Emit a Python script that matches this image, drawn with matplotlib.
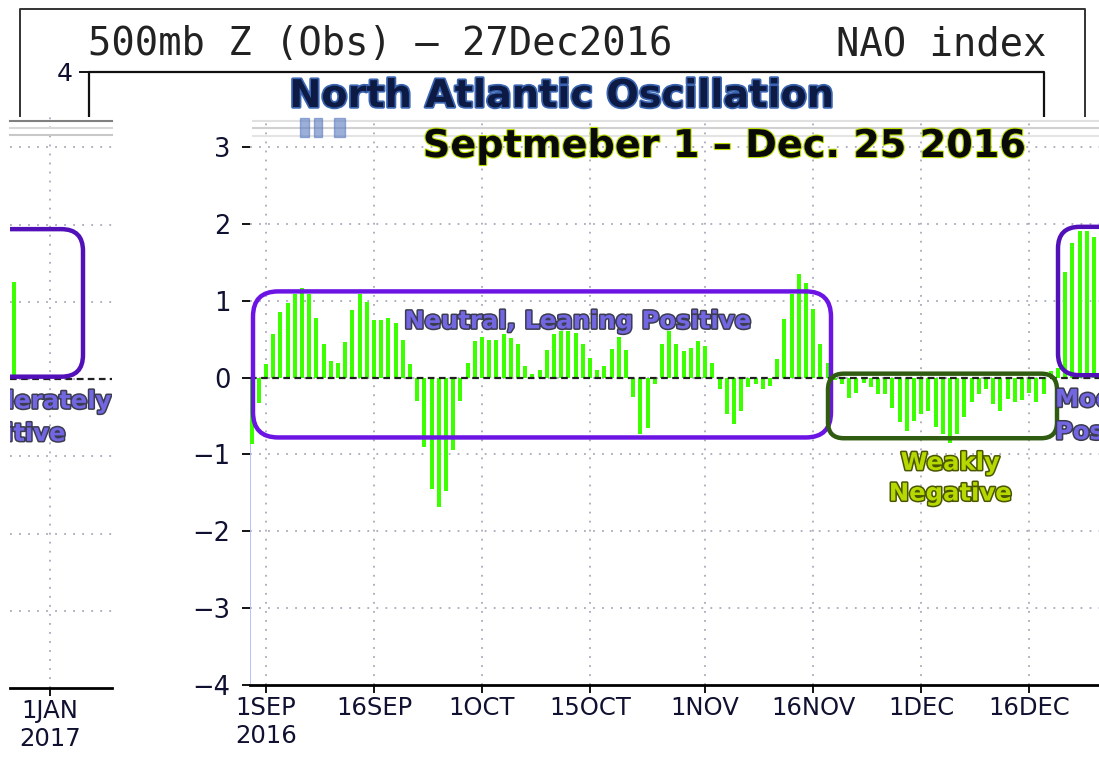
import numpy as np
import pandas as pd
import matplotlib
matplotlib.use("Agg")
import matplotlib.pyplot as plt
import matplotlib.patheffects as pe
from matplotlib.patches import FancyBboxPatch, Rectangle
from matplotlib.lines import Line2D

W, H = 1099, 779

# daily NAO index, 30 Aug .. 25 Dec 2016
nao_first_day = "2016-08-30"
nao_values = [-0.87, -0.33, 0.17, 0.57, 0.85, 0.97, 1.09, 1.17, 1.09, 0.78,
              0.43, 0.21, 0.19, 0.46, 0.88, 1.09, 0.98, 0.75, 0.75, 0.78,
              0.71, 0.49, 0.17, -0.30, -0.90, -1.45, -1.68, -1.47, -0.94, -0.31,
              0.19, 0.48, 0.53, 0.49, 0.49, 0.57, 0.51, 0.44, 0.15, 0.05,
              0.10, 0.36, 0.57, 0.60, 0.60, 0.58, 0.44, 0.25, 0.10, 0.15,
              0.37, 0.53, 0.36, -0.26, -0.74, -0.66, -0.09, 0.44, 0.61, 0.44,
              0.34, 0.39, 0.48, 0.41, 0.19, -0.15, -0.47, -0.60, -0.43, -0.12,
              -0.08, -0.15, -0.11, 0.24, 0.76, 1.08, 1.34, 1.23, 0.89, 0.43,
              0.19, -0.03, -0.08, -0.27, -0.20, -0.07, -0.13, -0.21, -0.22, -0.40,
              -0.58, -0.69, -0.56, -0.47, -0.44, -0.65, -0.74, -0.85, -0.74, -0.52,
              -0.32, -0.21, -0.15, -0.34, -0.43, -0.28, -0.32, -0.29, -0.20, -0.32,
              -0.21, 0.09, 0.13, 1.37, 1.75, 1.91, 1.91, 1.83]

tick_dates = ["2016-09-01", "2016-09-16", "2016-10-01", "2016-10-16",
              "2016-11-01", "2016-11-16", "2016-12-01", "2016-12-16"]
tick_labels = ["1SEP\n2016", "16SEP", "1OCT", "15OCT", "1NOV", "16NOV", "1DEC", "16DEC"]
y_ticks = [-4, -3, -2, -1, 0, 1, 2, 3]

# pasted fragment of the next chart (left side)
frag_dates = ["2016-12-26", "2016-12-27"]
frag_values = [1.42, 1.26]

start = pd.Timestamp("2016-09-01")
days = np.asarray((pd.date_range(nao_first_day, periods=len(nao_values)) - start).days)
tick_days = [(pd.Timestamp(d) - start).days for d in tick_dates]
jan1 = pd.Timestamp("2017-01-01")
frag_days = [(pd.Timestamp(d) - jan1).days for d in frag_dates]

PX_DAY, PX_UNIT = 7.2, 76.7
ASPECT = PX_DAY / PX_UNIT

BAR = "#3cff00"
GRID = dict(color="#a9a9bb", ls=(0, (1, 4)), lw=1.3)
PURPLE = "#6c14e4"
DPURPLE = "#5210b8"
DGREEN = "#2f5c10"
TXT = "#101030"


def rect(x0, y0, x1, y1):
    return [x0 / W, 1 - y1 / H, (x1 - x0) / W, (y1 - y0) / H]


def rbox(ax, x0, x1, y0, y1, color, r):
    ax.add_patch(FancyBboxPatch((x0, y0), x1 - x0, y1 - y0,
                                boxstyle=f"round,pad=0,rounding_size={r}",
                                mutation_aspect=ASPECT, fill=False, ec=color,
                                lw=3.2, zorder=6))


lab_purple = dict(color="#7366e2", fontweight="bold", fontsize=17.5, zorder=7,
                  path_effects=[pe.withStroke(linewidth=2.2, foreground="#3c3c50")])
lab_green = dict(color="#b6da00", fontweight="bold", fontsize=17.5, zorder=7,
                 path_effects=[pe.withStroke(linewidth=2.2, foreground="#4a5500")])

fig = plt.figure(figsize=(W / 100, H / 100), dpi=100)

# ---- main chart
ax = fig.add_axes(rect(250, 70, 1099, 685))
ax.set_xlim((250 - 266) / PX_DAY, (1099 - 266) / PX_DAY)
ax.set_ylim(-4, 4)
ax.bar(days, nao_values, width=0.55, color=BAR, zorder=3)
for d in tick_days:
    ax.axvline(d, **GRID, zorder=1)
for v in y_ticks[1:]:
    ax.axhline(v, **GRID, zorder=1)
ax.axhline(0, color="#202020", ls=(0, (3, 2)), lw=1.6, zorder=4)
ax.axvline(days[0] - 0.2, ymin=0, ymax=0.5, color="#a8b8ff", lw=1.2, zorder=2)
for s in ["top", "right", "left"]:
    ax.spines[s].set_visible(False)
ax.spines["bottom"].set_linewidth(2)
ax.set_xticks(tick_days)
ax.set_xticklabels(tick_labels, color=TXT, fontsize=17.5, linespacing=1.2)
ax.set_yticks(y_ticks)
ax.set_yticklabels([str(v).replace("-", "\u2212") for v in y_ticks], color=TXT, fontsize=18.5)
ax.tick_params(axis="x", direction="out", length=6, width=1.3, pad=2)
ax.tick_params(axis="y", direction="out", length=6, width=1.3, pad=8)

rbox(ax, (253 - 266) / PX_DAY, (831 - 266) / PX_DAY, -0.78, 1.12, PURPLE, 3.5)
rbox(ax, (828 - 266) / PX_DAY, (1057 - 266) / PX_DAY, -0.79, 0.05, DGREEN, 2.2)
rbox(ax, (1058 - 266) / PX_DAY, 125, 0.03, 1.96, DPURPLE, 3.0)
ax.text((577 - 266) / PX_DAY, 0.73, "Neutral, Leaning Positive", ha="center", va="center", **lab_purple)
ax.text((950 - 266) / PX_DAY, -1.31, "Weakly\nNegative", ha="center", va="center",
        linespacing=1.35, **lab_green)
ax.text((1055 - 266) / PX_DAY, -0.5, "Moderately\nPositive", ha="left", va="center",
        linespacing=1.45, clip_on=True, **lab_purple)

# ---- fragment of the following chart on the left
lp = fig.add_axes(rect(10, 70, 112, 688))
lp.set_xlim((10 - 50) / PX_DAY, (112 - 50) / PX_DAY)
lp.set_ylim(-4, 4)
lp.bar(frag_days, frag_values, width=0.55, color=BAR, zorder=3)
lp.axvline(0, **GRID, zorder=1)
for v in y_ticks[1:]:
    lp.axhline(v, **GRID, zorder=1)
lp.axhline(0, color="#202020", ls=(0, (3, 2)), lw=1.6, zorder=4)
for s in ["top", "right", "left"]:
    lp.spines[s].set_visible(False)
lp.spines["bottom"].set_linewidth(2)
lp.set_yticks([])
lp.set_xticks([0])
lp.set_xticklabels(["1JAN\n2017"], color=TXT, fontsize=17.5, linespacing=1.2)
lp.tick_params(axis="x", direction="out", length=6, width=1.3, pad=2)
rbox(lp, -12, (83 - 50) / PX_DAY, 0.03, 1.94, DPURPLE, 3.0)
lp.text((-44 - 50) / PX_DAY, -0.5, "Moderately\nPositive", ha="left", va="center",
        linespacing=1.45, clip_on=True, **lab_purple)

# ---- header strip of the original GrADS plot
hx = fig.add_axes([0, 1 - 117 / H, 1, 117 / H])
hx.set_xlim(0, W)
hx.set_ylim(117, 0)
hx.axis("off")
hx.add_patch(Rectangle((0, 0), W, 117, color="white", zorder=0))
hx.plot([20, 20, 1085, 1085], [117, 9, 9, 117], color="#333333", lw=1.4)
hx.plot([89, 89, 1044, 1044], [117, 72, 72, 117], color="#111111", lw=1.6)
hx.plot([80, 89], [72, 72], color="#111111", lw=1.4)
hx.text(73, 74, "4", ha="right", va="center", fontsize=18, color=TXT)
hx.text(88, 44, "500mb Z (Obs) \u2013 27Dec2016", ha="left", va="center",
        family="DejaVu Sans Mono", fontsize=28, color="#222222")
hx.text(1046, 44, "NAO index", ha="right", va="center",
        family="DejaVu Sans Mono", fontsize=28, color="#222222")

# grey strip left by the pasting
for y, x0, x1, c in [(121, 10, 112, "#808080"), (128, 10, 112, "#d8d8d8"), (135, 10, 112, "#c8c8c8"),
                     (121, 253, 1099, "#e0e0e0"), (128, 253, 1099, "#d0d0d0"), (136, 253, 1099, "#e4e4e4")]:
    fig.add_artist(Line2D([x0 / W, x1 / W], [1 - y / H, 1 - y / H], color=c, lw=1.5, zorder=1))
# blue smudge under the title
for x0, x1 in [(300, 309), (314, 322), (334, 345)]:
    fig.add_artist(Rectangle((x0 / W, 1 - 137 / H), (x1 - x0) / W, 19 / H,
                             transform=fig.transFigure, color="#5b7bc0", alpha=0.6, zorder=9))

# titles on top
fig.text(562 / W, 1 - 97 / H, "North Atlantic Oscillation", ha="center", va="center",
         fontsize=27.5, fontweight="bold", color="#0c1a44", zorder=10,
         path_effects=[pe.withStroke(linewidth=2.5, foreground="#3a64b0")])
fig.text(725 / W, 1 - 147 / H, "Septmeber 1 \u2013 Dec. 25 2016", ha="center", va="center",
         fontsize=27.5, fontweight="bold", color="#0a0a0a", zorder=10,
         path_effects=[pe.withStroke(linewidth=1.6, foreground="#b8e000")])

fig.savefig("out.png", dpi=100)
